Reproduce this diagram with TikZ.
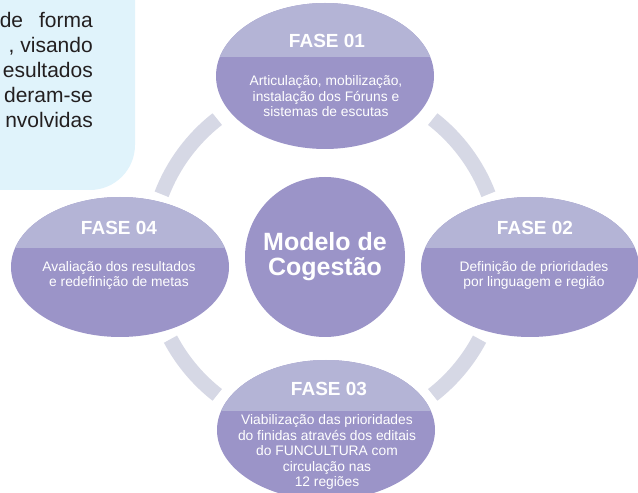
\documentclass[tikz,border=0pt]{standalone}
\usepackage{fontspec}
\setmainfont{Liberation Sans}
\usetikzlibrary{shapes.geometric}
\definecolor{claro}{HTML}{B4B4D6}
\definecolor{escuro}{HTML}{9B94C8}
\definecolor{anel}{HTML}{D6D8E5}
\definecolor{caixa}{HTML}{E0F3FB}
\definecolor{texto}{HTML}{231F20}
\begin{document}
\begin{tikzpicture}[x=1pt,y=1pt,line join=round,
fase/.style={ellipse,fill=escuro,inner sep=0pt,minimum width=218pt,minimum height=140pt,
path picture={\fill[claro] (path picture bounding box.north west) rectangle ([yshift=19pt]path picture bounding box.east);}},
titulo/.style={text=white,font=\bfseries\fontsize{19}{19}\selectfont,anchor=base,inner sep=0pt},
corpo/.style={text=white,font=\fontsize{13.8}{15.5}\selectfont,align=center,anchor=base,inner sep=0pt}]
\useasboundingbox (0,0) rectangle (638,493);
\path
(325,236) coordinate (M)
(325,417) coordinate (C1)
(530,226) coordinate (C2)
(326,63) coordinate (C3)
(120,226) coordinate (C4)
;
\fill[caixa,rounded corners=45pt] (-60,303) rectangle (135,560);
\foreach \l [count=\i] in {{de\hspace{16pt}forma},{, visando},esultados,deram-se,nvolvidas}
\node[text=texto,font=\fontsize{21}{25}\selectfont,anchor=base east,inner sep=0pt] (L\i) at (93,490-25*\i) {\l};
% anel
\foreach \a/\b in {21/52,128/159,208/232,308/332}
\draw[anel,line width=15pt] ([shift={(\a:175)}]M) arc (\a:\b:175);
\node[fase,minimum height=146pt] (F1) at (C1) {};
\foreach \i in {2,3,4}
\node[fase] (F\i) at (C\i) {};
\node[circle,fill=escuro,minimum size=160pt,inner sep=0pt,text=white,
font=\bfseries\fontsize{25}{25}\selectfont,align=center] (M0) at (M) {Modelo de\\Cogestão};
\foreach \i/\x/\y in {1/327/445,2/535/258,3/329/97,4/119/258}
\node[titulo] (T\i) at (\x,\y) {FASE 0\i};
\node[corpo] (B1) at (326,376) {Articulação, mobilização,\\instalação dos Fóruns e\\sistemas de escutas};
\node[corpo] (B2) at (534,206) {Definição de prioridades\\por linguagem e região};
\node[corpo] (B3) at (327,6) {Viabilização das prioridades\\do finidas através dos editais\\do FUNCULTURA com\\circulação nas\\12 regiões};
\node[corpo] (B4) at (119,206) {Avaliação dos resultados\\e redefinição de metas};
\end{tikzpicture}
\end{document}
